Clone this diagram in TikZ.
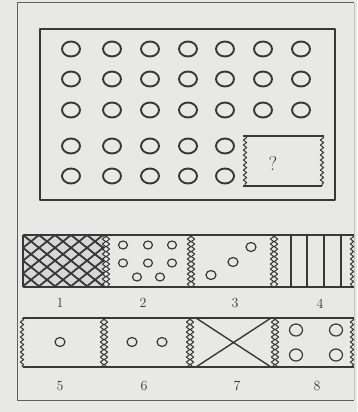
\documentclass[tikz,border=0pt]{standalone}
\usetikzlibrary{decorations.pathmorphing}
\definecolor{paper}{HTML}{E8E8E6}
\definecolor{inkc}{HTML}{383838}
\begin{document}
\begin{tikzpicture}[x=1pt,y=-1pt,line join=round]
\tikzset{
  ink/.style={draw=inkc,line width=1.4pt},
  frame/.style={draw=inkc!80,line width=1.0pt},
  wav/.style={draw=inkc,line width=1.0pt,decorate,decoration={snake,segment length=5pt,amplitude=1.7pt}},
  wavm/.style={draw=inkc,line width=1.0pt,decorate,decoration={snake,segment length=5pt,amplitude=1.7pt,mirror}},
  bigdot/.style={draw=inkc,line width=1.9pt},
  smalldot/.style={draw=inkc,line width=1.2pt},
  hatch/.style={draw=inkc,line width=1.8pt},
  lbl/.style={font=\fontsize{14}{14}\selectfont,text=inkc}
}
\fill[paper] (0,0) rectangle (357,412);
\useasboundingbox (0,0) rectangle (357,412);
% outer frame
\draw[frame] (354,3) -- (17,3) -- (17,400) -- (354,400);
\draw[inkc!30,line width=0.6pt] (354,3) -- (354,400);
% top panel
\draw[ink] (40,29) rectangle (335,200);
\foreach \y in {49,79,110,146,176}{
  \foreach \x in {71,112,150,188,225,263,301}{
    \pgfmathparse{(\x>250 && \y>130) ? 1 : 0}
    \ifnum\pgfmathresult=0
      \draw[bigdot] (\x,\y) ellipse [x radius=9,y radius=7.5];
    \fi
  }
}
\draw[ink] (243,136) -- (324,136);
\draw[ink] (243,186) -- (322,186);
\draw[wav] (245,136) -- (245,186);
\draw[wav] (322,136) -- (322,186);
\node[lbl,font=\fontsize{20}{20}\selectfont] (q) at (273,163) {?};
% strip 1
\begin{scope}
  \clip (23,235) rectangle (104,287);
  \fill[inkc!20] (23,235) rectangle (104,287);
  \foreach \k in {-6,...,10}{
    \draw[hatch] (23+\k*16,235) -- ++(65,52);
    \draw[hatch] (23+\k*16,235) -- ++(-65,52);
  }
\end{scope}
\draw[ink] (23,235) -- (354,235);
\draw[ink] (23,287) -- (354,287);
\draw[ink] (23,235) -- (23,287);
\draw[wav] (104,235) -- (104,287);
\draw[wavm] (108,235) -- (108,287);
\draw[wav] (189,235) -- (189,287);
\draw[wavm] (193,235) -- (193,287);
\draw[wav] (272,235) -- (272,287);
\draw[wavm] (276,235) -- (276,287);
\draw[wav] (352,235) -- (352,287);
\foreach \x/\y in {123/245,148/245,172/245,123/263,148/263,172/263,137/277,160/277}
  \draw[smalldot] (\x,\y) ellipse [x radius=4.5,y radius=4];
\foreach \x/\y in {211/275,233/262,251/247}
  \draw[smalldot] (\x,\y) ellipse [x radius=5,y radius=4.5];
\foreach \x in {291,307,324,341}
  \draw[ink] (\x,235) -- (\x,287);
\node[lbl] (l1) at (60,303) {1};
\node[lbl] (l2) at (143,303) {2};
\node[lbl] (l3) at (235,303) {3};
\node[lbl] (l4) at (320,304) {4};
% strip 2
\draw[ink] (23,318) -- (354,318);
\draw[ink] (23,367) -- (354,367);
\draw[wav] (22,318) -- (22,367);
\draw[wav] (102,318) -- (102,367);
\draw[wavm] (106,318) -- (106,367);
\draw[wav] (188,318) -- (188,367);
\draw[wavm] (192,318) -- (192,367);
\draw[wav] (273,318) -- (273,367);
\draw[wavm] (277,318) -- (277,367);
\draw[wav] (352,318) -- (352,367);
\draw[smalldot] (60,342) ellipse [x radius=5,y radius=4.5];
\draw[smalldot] (132,342) ellipse [x radius=5,y radius=4.5];
\draw[smalldot] (162,342) ellipse [x radius=5,y radius=4.5];
\draw[ink] (196,318) -- (271,367);
\draw[ink] (196,367) -- (271,318);
\foreach \x/\y in {296/330,336/330,296/355,336/355}
  \draw[smalldot] (\x,\y) ellipse [x radius=6.5,y radius=6];
\node[lbl] (l5) at (60,386) {5};
\node[lbl] (l6) at (144,386) {6};
\node[lbl] (l7) at (237,386) {7};
\node[lbl] (l8) at (317,386) {8};
\end{tikzpicture}
\end{document}
